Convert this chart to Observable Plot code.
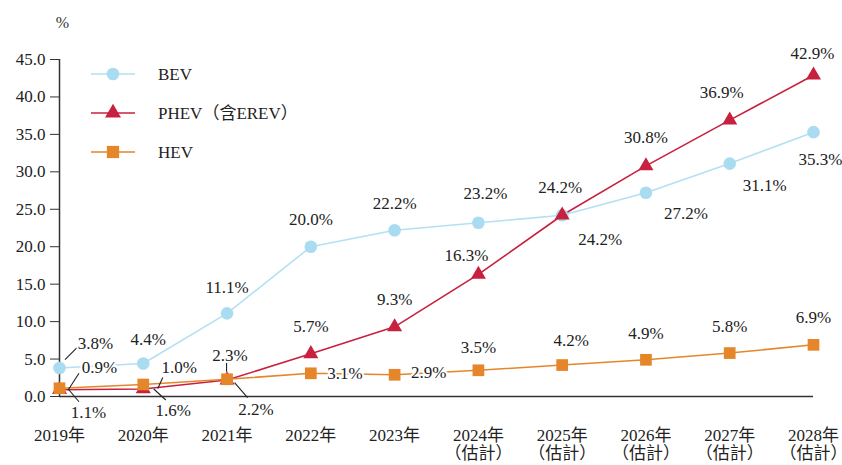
<!DOCTYPE html>
<html>
<head>
<meta charset="utf-8">
<script src="https://cdn.jsdelivr.net/npm/d3@7"></script>
<script src="https://cdn.jsdelivr.net/npm/@observablehq/plot@0.6"></script>
<style>
  html, body { margin: 0; padding: 0; background: #fff; }
  #chart svg { display: block; }
  #chart svg, #chart svg text { font-family: "Liberation Serif", "Times New Roman", Times, "DejaVu Serif", "Noto Sans CJK TC", serif !important; }
</style>
</head>
<body>
<div id="chart"></div>
<script>
// ---- data ----
const years = ["2019年", "2020年", "2021年", "2022年", "2023年", "2024年", "2025年", "2026年", "2027年", "2028年"];
const estimated = [false, false, false, false, false, true, true, true, true, true];
const estimateNote = "（估計）";
const bev  = [3.8, 4.4, 11.1, 20.0, 22.2, 23.2, 24.2, 27.2, 31.1, 35.3];
const phev = [0.9, 1.0, 2.2, 5.7, 9.3, 16.3, 24.2, 30.8, 36.9, 42.9];
const hev  = [1.1, 1.6, 2.3, 3.1, 2.9, 3.5, 4.2, 4.9, 5.8, 6.9];
const seriesNames = ["BEV", "PHEV（含EREV）", "HEV"];
const yTicks = [0, 5, 10, 15, 20, 25, 30, 35, 40, 45];
const yUnit = "%";

// ---- label placement (pixel offsets from each point) ----
const bevLabelOffset  = [[36,-24],[5,-24],[0,-26],[0,-27],[0,-27],[7,-29],[-2,-28],[40,21],[35,22],[7,27]];
const phevLabelOffset = [[40,-22],[36,-21],[29,30],[0,-27],[0,-27],[-12,-19],[38,24],[0,-28],[-8,-28],[-1,-22]];
const hevLabelOffset  = [[29,24],[30,26],[3,-24],[34,0],[34,-2],[0,-23],[9,-24],[0,-26],[0,-27],[0,-27]];
// leader lines: [seriesIndex, pointIndex, startDx, startDy, endDx, endDy]
const leaders = [
  [0, 0, 6, -8, 18, -20],
  [1, 0, 9, 1, 20, -16],
  [2, 0, 9, 1, 20, 14],
  [1, 1, 15, 0, 20, -11],
  [2, 1, 11, 5, 23, 16],
  [2, 2, 0, -7, 0, -16],
  [1, 2, 8, 3, 21, 18]
];

const colors = ["#a9dcf1", "#c8203f", "#e5862a"];
const lineColors = ["#b3e0f2", "#c8203f", "#e5862a"];
const symbols = ["circle", "triangle", "square"];
const FONT = '"Liberation Serif", "Times New Roman", Times, "DejaVu Serif", "Noto Sans CJK TC", serif';

const allSeries = [bev, phev, hev];
const offsets = [bevLabelOffset, phevLabelOffset, hevLabelOffset];
const idx = years.map((_, i) => i);

const marks = [];

// lines
allSeries.forEach((vals, s) => {
  marks.push(Plot.line(idx, {x: i => i, y: i => vals[i], stroke: lineColors[s], strokeWidth: 1.6}));
});

// axes
marks.push(Plot.ruleY([0], {stroke: "#333", strokeWidth: 1.5}));
marks.push(Plot.ruleX([0], {stroke: "#333", strokeWidth: 1.5}));
marks.push(Plot.axisY({ticks: yTicks, tickFormat: d => d.toFixed(1), tickSize: 9, tickPadding: 5,
  fontSize: 17, fontFamily: FONT, label: null, stroke: "#333"}));

// x tick labels (two lines for estimated years)
marks.push(Plot.text(idx, {
  x: i => i, frameAnchor: "bottom",
  text: i => estimated[i] ? years[i] + "\n" + estimateNote : years[i],
  lineAnchor: "top", dy: 31, lineHeight: 1.08, fontSize: 17, fontFamily: FONT, fill: "#222"
}));

// unit label
marks.push(Plot.text([yUnit], {frameAnchor: "top-left", textAnchor: "middle", lineAnchor: "middle",
  dx: 3, dy: -37, fontSize: 16, fontFamily: FONT, fill: "#333"}));

// leader lines (custom mark using scales)
marks.push((index, scales) => {
  const g = d3.create("svg:g").attr("stroke", "#222").attr("stroke-width", 1.1).attr("fill", "none");
  leaders.forEach(([s, i, sx, sy, ex, ey]) => {
    const px = scales.x(i), py = scales.y(allSeries[s][i]);
    g.append("line").attr("x1", px + sx).attr("y1", py + sy).attr("x2", px + ex).attr("y2", py + ey);
  });
  return g.node();
});

// markers
allSeries.forEach((vals, s) => {
  marks.push(Plot.dot(idx, {x: i => i, y: i => vals[i], symbol: symbols[s],
    fill: colors[s], stroke: "none", r: [6.3, 5.6, 6.6][s]}));
});

// value labels (one small text mark per label, each with its own pixel offset)
allSeries.forEach((vals, s) => {
  vals.forEach((v, i) => {
    marks.push(Plot.text([i], {
      x: d => d, y: d => vals[d], text: d => vals[d].toFixed(1) + "%",
      dx: offsets[s][i][0], dy: offsets[s][i][1],
      fontSize: 17, fontFamily: FONT, fill: "#222", stroke: "white", strokeWidth: 4, paintOrder: "stroke"
    }));
  });
});

// legend (custom mark)
marks.push(() => {
  const g = d3.create("svg:g");
  const x0 = 91, y0 = 74, gap = 39;
  seriesNames.forEach((name, s) => {
    const y = y0 + s * gap;
    g.append("line").attr("x1", x0).attr("x2", x0 + 44).attr("y1", y).attr("y2", y)
      .attr("stroke", lineColors[s]).attr("stroke-width", 1.6);
    const sym = [d3.symbolCircle, d3.symbolTriangle, d3.symbolSquare][s];
    const size = [125, 110, 150][s];
    g.append("path").attr("d", d3.symbol(sym, size)()).attr("transform", `translate(${x0 + 22},${y})`)
      .attr("fill", colors[s]);
    g.append("text").attr("x", x0 + 67).attr("y", y).attr("dy", "0.35em")
      .attr("text-anchor", "start").attr("font-family", FONT)
      .attr("font-size", 17).attr("fill", "#222").text(name);
  });
  return g.node();
});

const chart = Plot.plot({
  width: 842,
  height: 465,
  marginLeft: 59,
  marginRight: 29,
  marginTop: 59,
  marginBottom: 69,
  style: {fontFamily: FONT, background: "#fff", color: "#222"},
  x: {type: "linear", domain: [0, years.length - 1], axis: null},
  y: {domain: [0, 45], axis: null},
  marks
});
document.getElementById("chart").appendChild(chart);
</script>
</body>
</html>
